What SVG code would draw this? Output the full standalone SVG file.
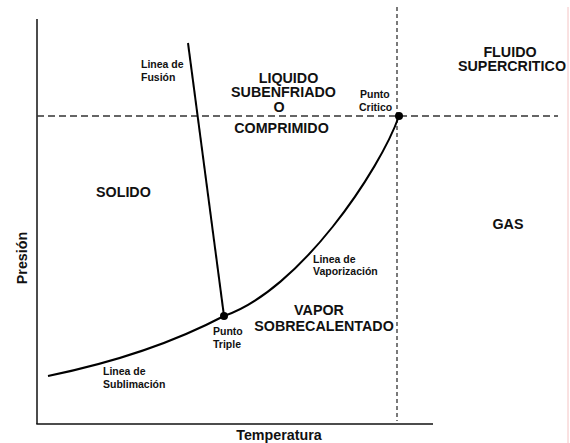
<svg xmlns="http://www.w3.org/2000/svg" width="570" height="443" viewBox="0 0 570 443">
<style>
text{font-family:"Liberation Sans",Arial,sans-serif;font-weight:bold;fill:#111}
.big{font-size:14.3px}
.sm{font-size:10.5px}
.ax{stroke:#111;stroke-width:1.5;fill:none}
.dash{stroke:#333;stroke-width:1.3;stroke-dasharray:7,4;fill:none}
.vdash{stroke:#333;stroke-width:1.3;stroke-dasharray:4,3;fill:none}
.curve{stroke:#000;stroke-width:2;fill:none}
</style>
<rect width="570" height="443" fill="#fff"/>
<line x1="568" y1="7" x2="568" y2="443" stroke="#f4c4c4" stroke-width="1"/>
<g id="axes">
<line class="ax" x1="37" y1="19" x2="37" y2="424"/>
<line class="ax" x1="36.3" y1="424" x2="433" y2="424"/>
</g>
<g id="connectors">
<line class="dash" x1="37" y1="116" x2="558" y2="116"/>
<line class="vdash" x1="397" y1="7" x2="397" y2="421"/>
<line class="curve" x1="188" y1="43" x2="224" y2="316"/>
<path class="curve" d="M48,376 Q150,355 224,316"/>
<path class="curve" d="M224,316 C300,290 380,170 399,116"/>
</g>
<g id="triple-point"><circle cx="224" cy="316" r="4" fill="#000"/>
<text class="sm" x="213" y="335">Punto</text><text class="sm" x="213" y="348">Triple</text></g>
<g id="critical-point"><circle cx="399" cy="116" r="4" fill="#000"/>
<text class="sm" x="360" y="98">Punto</text><text class="sm" x="359" y="111">Critico</text></g>
<g id="fusion-label"><text class="sm" x="141" y="68">Linea de</text><text class="sm" x="141" y="81">Fusión</text></g>
<g id="vap-label"><text class="sm" x="313" y="263">Linea de</text><text class="sm" x="313" y="275">Vaporización</text></g>
<g id="sub-label"><text class="sm" x="103" y="375">Linea de</text><text class="sm" x="103" y="388">Sublimación</text></g>
<g id="liquido" class="big">
<text class="big" x="288.5" y="83" text-anchor="middle">LIQUIDO</text>
<text class="big" x="283.5" y="97" text-anchor="middle">SUBENFRIADO</text>
<text class="big" x="279" y="112" text-anchor="middle">O</text>
<text class="big" x="281.5" y="133" text-anchor="middle">COMPRIMIDO</text>
</g>
<g id="solido"><text class="big" x="96" y="197">SOLIDO</text></g>
<g id="fluido"><text class="big" x="510" y="57" text-anchor="middle">FLUIDO</text>
<text class="big" x="512" y="71" text-anchor="middle">SUPERCRITICO</text></g>
<g id="gas"><text class="big" x="508" y="229" text-anchor="middle">GAS</text></g>
<g id="vapor"><text class="big" x="319" y="315" text-anchor="middle">VAPOR</text>
<text class="big" x="324" y="331" text-anchor="middle">SOBRECALENTADO</text></g>
<g id="labels">
<text class="big" transform="translate(27,258) rotate(-90)" text-anchor="middle">Presión</text>
<text class="big" x="279" y="440" text-anchor="middle">Temperatura</text>
</g>
</svg>
